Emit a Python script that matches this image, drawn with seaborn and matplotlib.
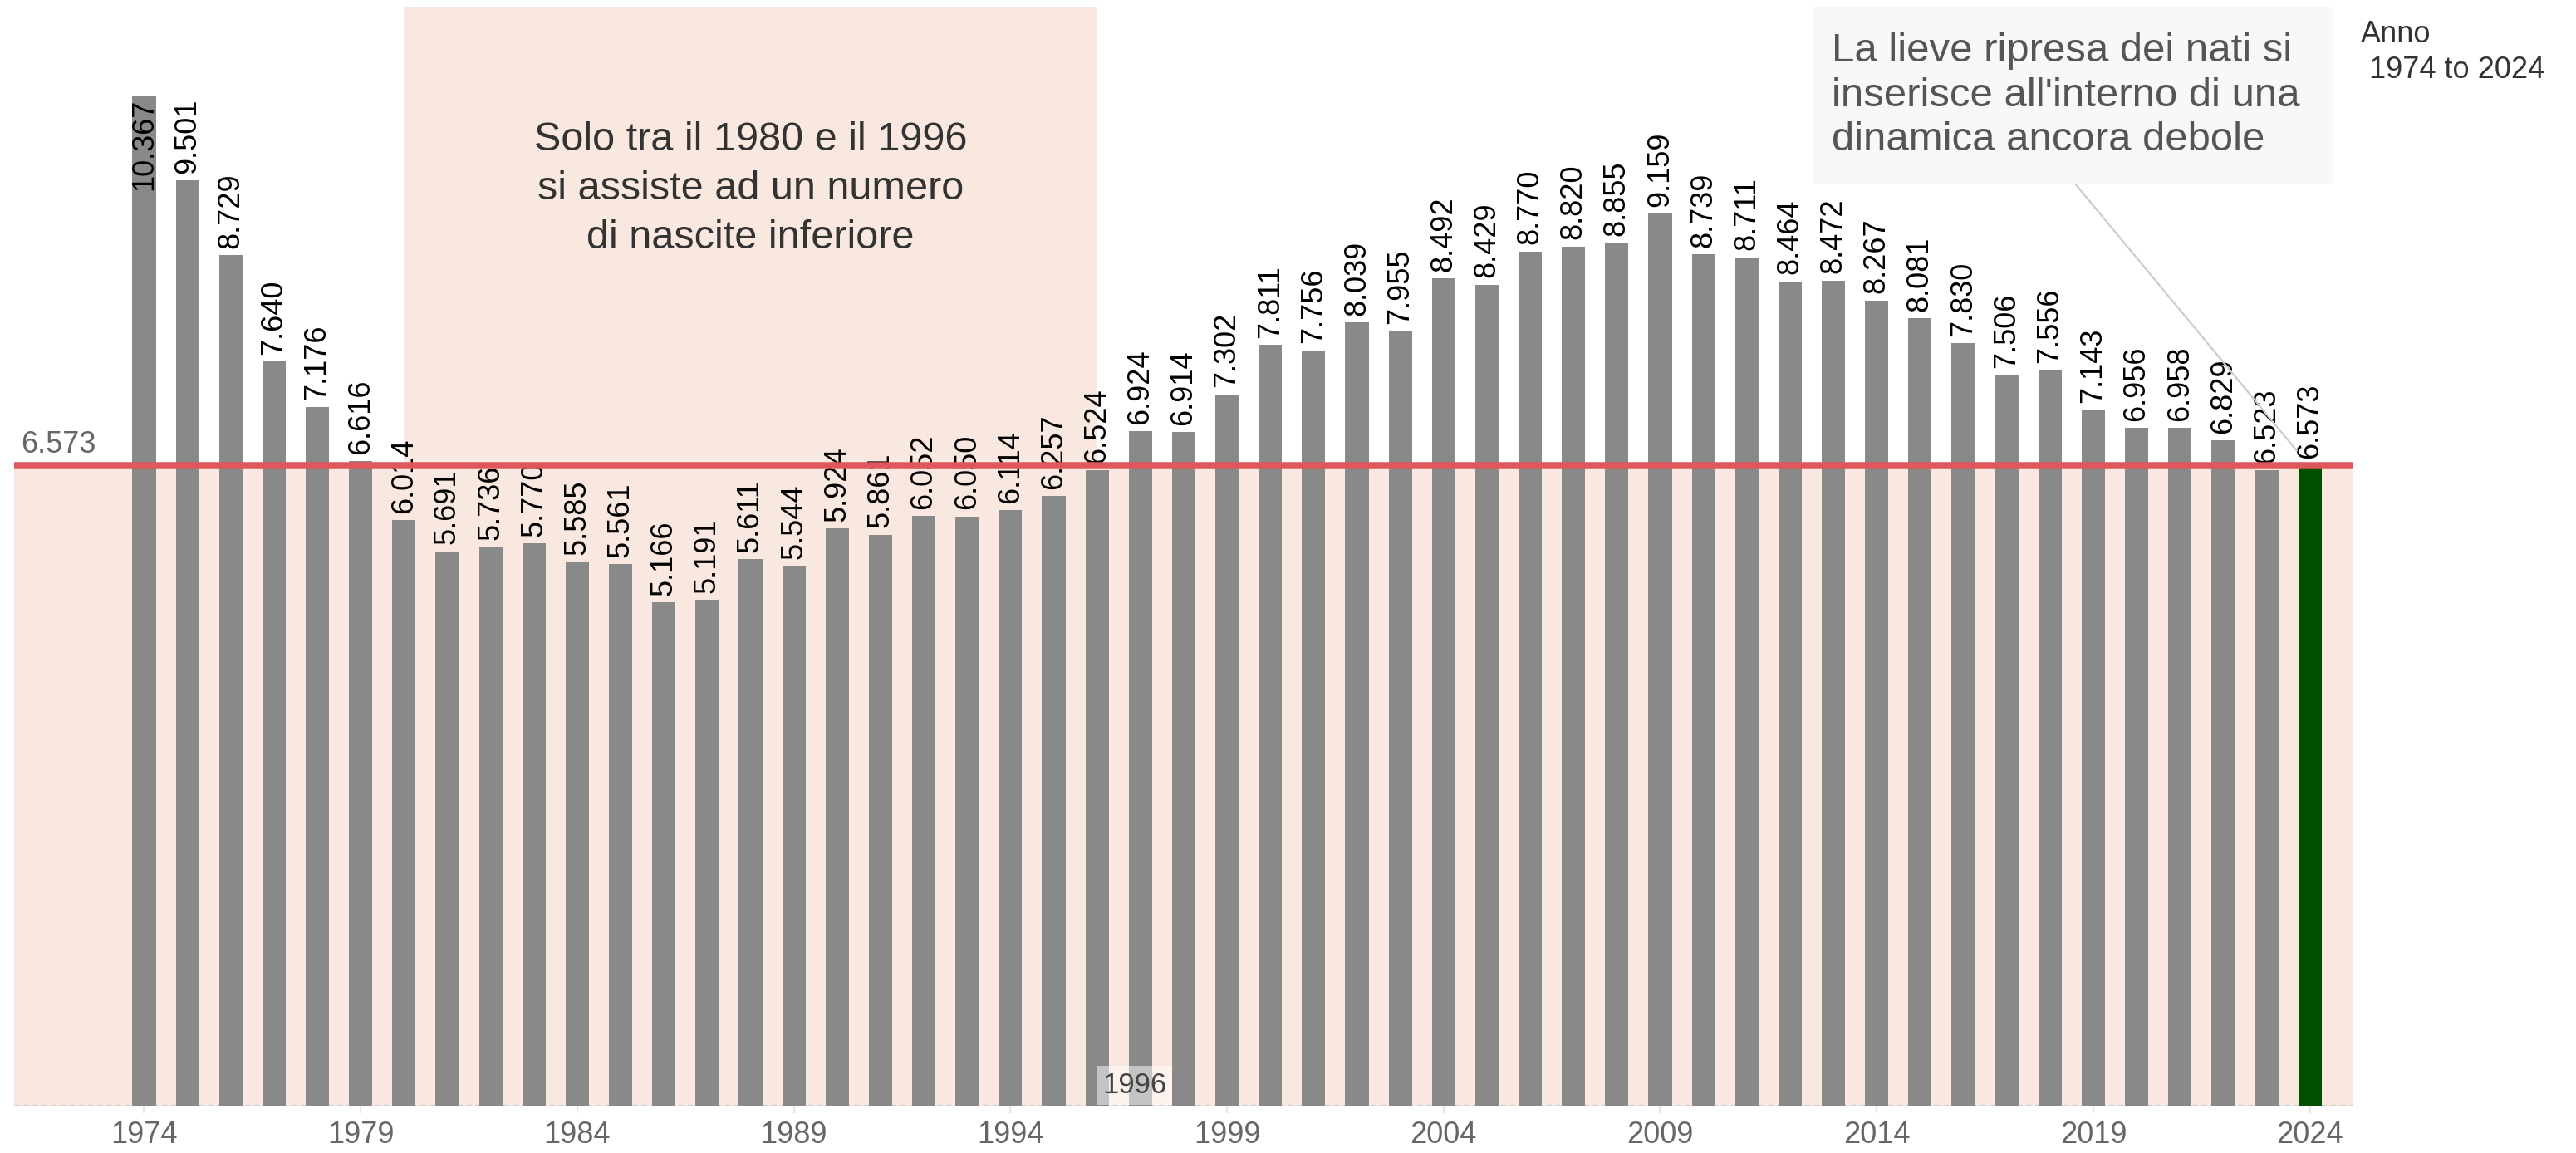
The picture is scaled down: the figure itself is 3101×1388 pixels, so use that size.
import pandas as pd
import matplotlib.pyplot as plt
import seaborn as sns
from matplotlib.patches import Rectangle

# Dati: nati per anno (1974-2024)
anni = list(range(1974, 2025))
nati = [10367, 9501, 8729, 7640, 7176, 6616,
        6014, 5691, 5736, 5770, 5585,
        5561, 5166, 5191, 5611, 5544,
        5924, 5861, 6052, 6050, 6114,
        6257, 6524, 6924, 6914, 7302,
        7811, 7756, 8039, 7955, 8492,
        8429, 8770, 8820, 8855, 9159,
        8739, 8711, 8464, 8472, 8267,
        8081, 7830, 7506, 7556, 7143,
        6956, 6958, 6829, 6523, 6573]
anno_evidenza = 2024
inizio_periodo = 1980
fine_periodo = 1996
tick_anni = anni[::5]

testo_periodo = "Solo tra il 1980 e il 1996\nsi assiste ad un numero\ndi nascite inferiore"
testo_ripresa = "La lieve ripresa dei nati si\ninserisce all'interno di una\ndinamica ancora debole"
testo_filtro = "Anno\n 1974 to 2024"


def formatta(v):
    return f"{v:,}".replace(",", ".")


# Stile
sns.set_theme(style="white")
plt.rcParams['font.family'] = ['Liberation Sans', 'DejaVu Sans']

df = pd.DataFrame({'Anno': anni, 'Nati': nati})
df['Evidenza'] = ['si' if a == anno_evidenza else 'no' for a in df['Anno']]
riferimento = nati[anni.index(anno_evidenza)]

rosa = '#F9E8E0'

fig = plt.figure(figsize=(15.505, 6.94), dpi=200)
ax = fig.add_axes([0.0055, 0.041, 0.908, 0.953])

# Sfondo: sotto il valore di riferimento e periodo 1980-1996
ax.axhspan(0, riferimento, color=rosa, lw=0, zorder=0)
ax.axvspan(inizio_periodo, fine_periodo, color=rosa, lw=0, zorder=0)
ax.axhline(0, color='#cfcfcf', ls=(0, (3, 2)), lw=0.8, zorder=1)

sns.barplot(data=df, x='Anno', y='Nati', hue='Evidenza',
            palette={'no': '#898989', 'si': '#005000'},
            native_scale=True, width=0.54, saturation=1, dodge=False,
            legend=False, ax=ax, zorder=2, linewidth=0, edgecolor='none')

ax.set_xlim(anni[0] - 3, anni[-1] + 1)
ax.set_ylim(0, 11280)

# Etichette dei valori
massimo = max(nati)
for a, v in zip(anni, nati):
    if v == massimo:
        ax.annotate(formatta(v), (a, v), xytext=(0, -1), textcoords='offset points',
                    rotation=90, ha='center', va='top', fontsize=13,
                    color='black', zorder=4)
    else:
        ax.annotate(formatta(v), (a, v), xytext=(0, 3), textcoords='offset points',
                    rotation=90, ha='center', va='bottom', fontsize=13,
                    color='black', zorder=4)

# Linea di riferimento
ax.axhline(riferimento, color='#E0575B', lw=2.7, zorder=6)
ax.text(anni[0] - 2.85, riferimento + 128, formatta(riferimento), ha='left', va='baseline',
        fontsize=13, color='#666666', zorder=6)

# Testo periodo
ax.text((inizio_periodo + fine_periodo) / 2, 9410, testo_periodo, ha='center', va='center',
        fontsize=17.5, color='#333333', linespacing=1.4, zorder=4)
ax.text(fine_periodo + 0.12, 210, str(fine_periodo), ha='left', va='center',
        fontsize=12.5, color='#444444', zorder=7,
        bbox=dict(boxstyle='square,pad=0.2', fc='white', ec='none', alpha=0.5))

# Box di commento a destra
ax.add_patch(Rectangle((2012.54, 9455), 11.98, 1825, fc='#F8F8F8', ec='none',
                       zorder=3, clip_on=False))
ax.text(2012.96, 10370, testo_ripresa, ha='left', va='center', fontsize=17.7,
        color='#555555', linespacing=1.25, zorder=4)
ax.annotate('', xy=(anno_evidenza - 0.3, riferimento + 150), xytext=(2018.6, 9455),
            arrowprops=dict(arrowstyle='-', color='#cccccc', lw=0.8, shrinkA=0, shrinkB=0),
            zorder=4)

# Assi
ax.set_xticks(tick_anni)
ax.set_xticklabels([str(a) for a in tick_anni])
ax.set_yticks([])
ax.set_xlabel('')
ax.set_ylabel('')
ax.tick_params(axis='x', bottom=True, color='#e6e6e6', labelcolor='#666666',
               length=3.3, width=0.8, labelsize=13, pad=3)
for s in ax.spines.values():
    s.set_visible(False)

fig.text(0.9165, 0.983, testo_filtro, ha='left', va='top', fontsize=13,
         color='#333333', linespacing=1.3)

fig.savefig('out.png', dpi=200)
